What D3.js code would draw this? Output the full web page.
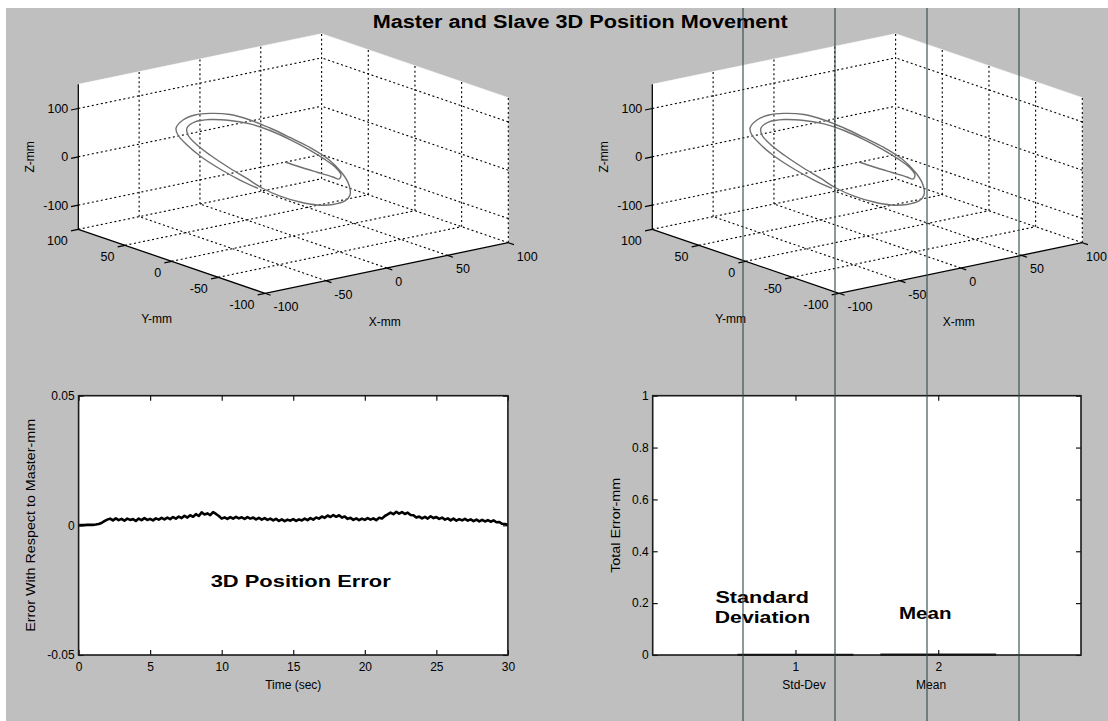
<!DOCTYPE html>
<html>
<head>
<meta charset="utf-8">
<script src="https://cdn.jsdelivr.net/npm/d3@7"></script>
<style>
  html, body { margin: 0; padding: 0; background: #fff; }
  svg { display: block; font-family: "Liberation Sans", Arial, Helvetica, sans-serif; }
</style>
</head>
<body>
<svg id="fig" width="1108" height="721"></svg>
<script>
// ---- data ----
const figTitle = "Master and Slave 3D Position Movement";

// 3D trajectory in mm (two turns)
const pathX = [-2.7, 2.2, 8.0, 12.9, 14.8, 15.5, 13.9, 10.0, 4.8, -1.1, -7.6, -14.0, -20.5, -27.0, -31.9, -34.5,
  -34.2, -31.6, -27.0, -21.2, -15.3, -10.2, -4.3, 2.2, 7.7, 12.9, 16.8, 18.4, 18.1, 15.8, 11.3, 5.4, -1.1,
  -7.6, -14.0, -20.5, -27.0, -31.9, -35.8, -38.0, -37.4, -34.8, -30.2, -23.8, -17.3, -11.4];
const pathY = [5.4, -4.3, -16.0, -25.7, -29.6, -30.9, -27.7, -19.9, -9.5, 2.1, 15.1, 28.1, 41.1, 54.0, 63.8, 68.9,
  68.3, 63.1, 54.0, 42.4, 30.7, 20.3, 8.6, -4.3, -15.4, -25.7, -33.5, -36.8, -36.1, -31.6, -22.5, -10.8, 2.1,
  15.1, 28.1, 41.1, 54.0, 63.8, 71.5, 76.1, 74.8, 69.6, 60.5, 47.5, 34.6, 22.9];
const pathZ = [1.0, -5.6, -12.2, -17.6, -20.3, -11.4, 1.9, 17.4, 33.7, 48.8, 62.3, 70.6, 72.4, 69.3, 60.4, 45.9,
  31.7, 15.1, -4.1, -24.2, -42.2, -58.8, -70.8, -78.0, -79.7, -74.5, -64.1, -50.5, -30.0, -7.0, 18.3, 37.5, 53.0,
  67.4, 78.8, 84.9, 82.1, 74.9, 61.4, 42.4, 29.0, 12.4, -8.7, -30.4, -48.0, -60.8];

const ticksXY = [-100, -50, 0, 50, 100];
const ticksZ = [-100, 0, 100];

// 3D position error, one sample every 0.2 s from 0 to 30 s, in micrometres
const errorUm = [
  0.0, 0.1, 0.1, 0.2, 0.2, 0.2, 0.3, 0.5, 0.9, 1.6,
  2.2, 2.6, 1.9, 2.7, 2.0, 2.5, 1.8, 2.6, 2.1, 2.4,
  1.7, 2.6, 2.0, 2.8, 2.1, 2.5, 1.9, 2.7, 2.2, 2.9,
  2.3, 3.0, 2.4, 3.2, 2.6, 3.4, 2.8, 3.7, 3.0, 3.9,
  3.3, 4.3, 3.6, 5.0, 4.2, 4.6, 3.9, 5.1, 4.4, 3.6,
  2.6, 3.1, 2.5, 3.2, 2.6, 3.3, 2.7, 3.1, 2.5, 3.2,
  2.6, 3.0, 2.3, 2.9, 2.2, 2.8, 2.1, 2.6, 1.9, 2.5,
  1.7, 2.3, 1.6, 2.2, 1.8, 2.4, 1.7, 2.3, 1.9, 2.6,
  2.0, 2.8, 2.2, 3.0, 2.6, 3.4, 2.9, 3.8, 3.2, 4.0,
  3.3, 3.9, 3.0, 3.4, 2.5, 2.9, 2.1, 2.7, 2.0, 2.6,
  2.1, 2.8, 2.2, 2.7, 2.0, 2.9, 2.6, 3.6, 4.2, 4.9,
  4.3, 5.2, 4.5, 5.1, 4.4, 4.9, 4.0, 3.9, 3.0, 3.4,
  2.7, 3.3, 2.6, 3.5, 2.8, 3.2, 2.5, 3.0, 2.2, 2.7,
  1.9, 2.6, 1.8, 2.4, 1.9, 2.5, 1.8, 2.3, 1.6, 2.2,
  1.5, 2.1, 1.5, 2.0, 1.4, 1.9, 1.2, 1.3, 0.6, 0.5,
  0.2
];
const sampleStep = 0.2;
const timeTicks = [0, 5, 10, 15, 20, 25, 30];
const errorTicks = [-0.05, 0, 0.05];

const barNames = ["Std-Dev", "Mean"];
const barValues = [0.0016, 0.0024];
const barLabelAt = [1.06, 1.95];
const totalTicks = [0, 0.2, 0.4, 0.6, 0.8, 1];

// ---- drawing ----
const W = 1108, H = 721;
const svg = d3.select("#fig");

svg.append("rect")
  .attr("x", 6).attr("y", 8).attr("width", W - 6).attr("height", H - 8)
  .attr("fill", "#bfbfbf");

svg.append("text")
  .attr("x", 372.7).attr("y", 28.3)
  .attr("font-size", 17.5).attr("font-weight", "bold")
  .attr("textLength", 415).attr("lengthAdjust", "spacingAndGlyphs")
  .text(figTitle);

// MATLAB default view (az -37.5, el 30), stretched to fill the axes
function makeProjection(ox, oy) {
  const nx = d3.scaleLinear().domain([-100, 100]).range([0, 1]);
  const ny = d3.scaleLinear().domain([-100, 100]).range([0, 1]);
  const nz = d3.scaleLinear().domain([-150, 150]).range([0, 1]);
  return (x, y, z) => [
    ox + nx(x) * 243.3 - ny(y) * 186.7,
    oy - nx(x) * 50.6 - ny(y) * 64 - nz(z) * 145
  ];
}

function draw3D(ox) {
  const P = makeProjection(ox, 293.3);
  const g = svg.append("g");
  const line3 = pts => d3.line()(pts.map(p => P(p[0], p[1], p[2])));

  // white panes: back wall, side wall, floor
  const panes = [
    [[-100, 100, -150], [100, 100, -150], [100, 100, 150], [-100, 100, 150]],
    [[100, 100, -150], [100, -100, -150], [100, -100, 150], [100, 100, 150]],
    [[-100, -100, -150], [100, -100, -150], [100, 100, -150], [-100, 100, -150]]
  ];
  g.selectAll("path.pane").data(panes).join("path")
    .attr("class", "pane")
    .attr("d", d => line3(d) + "Z")
    .attr("fill", "#fff").attr("stroke", "#fff").attr("stroke-width", 0.6);

  // dotted grid
  const grid = [];
  ticksXY.filter(v => v > -100).forEach(v => {
    grid.push([[v, 100, -150], [v, 100, 150]]);
    grid.push([[v, -100, -150], [v, 100, -150]]);
    grid.push([[-100, v, -150], [100, v, -150]]);
  });
  ticksXY.filter(v => v < 100).forEach(v => grid.push([[100, v, -150], [100, v, 150]]));
  ticksZ.forEach(v => {
    grid.push([[-100, 100, v], [100, 100, v]]);
    grid.push([[100, -100, v], [100, 100, v]]);
  });
  g.selectAll("path.grid").data(grid).join("path")
    .attr("class", "grid")
    .attr("d", line3)
    .attr("fill", "none").attr("stroke", "#000")
    .attr("stroke-width", 1.1).attr("stroke-dasharray", "2,2.6");

  // trajectory
  const pts = pathX.map((x, i) => P(x, pathY[i], pathZ[i]));
  g.append("path")
    .attr("d", d3.line().curve(d3.curveCatmullRom)(pts))
    .attr("fill", "none").attr("stroke", "#707070").attr("stroke-width", 1.4);

  // axis lines
  const axes = [
    [[-100, 100, -150], [-100, 100, 150]],
    [[-100, -100, -150], [-100, 100, -150]],
    [[-100, -100, -150], [100, -100, -150]]
  ];
  g.selectAll("path.axis").data(axes).join("path")
    .attr("class", "axis")
    .attr("d", line3)
    .attr("fill", "none").attr("stroke", "#000").attr("stroke-width", 1.3);

  // ticks
  const ticks = [];
  ticksXY.forEach(v => {
    ticks.push([[v, -100, -150], [v, -106, -150]]);
    ticks.push([[-100, v, -150], [-106, v, -150]]);
  });
  ticksZ.forEach(v => ticks.push([[-100, 100, v], [-106, 100, v]]));
  g.selectAll("path.tick").data(ticks).join("path")
    .attr("class", "tick")
    .attr("d", line3)
    .attr("stroke", "#000").attr("stroke-width", 1.2);

  // tick labels (kept inside the window at the far right)
  g.selectAll("text.xt").data(ticksXY).join("text")
    .attr("class", "xt")
    .attr("x", d => Math.min(P(d, -100, -150)[0] + 8.5, W - 22))
    .attr("y", d => P(d, -100, -150)[1] + 13.5)
    .attr("dy", "0.35em").attr("font-size", 12.5)
    .text(d => d);
  g.selectAll("text.yt").data(ticksXY).join("text")
    .attr("class", "yt")
    .attr("x", d => P(-100, d, -150)[0] - 10.5)
    .attr("y", d => P(-100, d, -150)[1] + 11.3)
    .attr("dy", "0.35em").attr("text-anchor", "end").attr("font-size", 12.5)
    .text(d => d);
  g.selectAll("text.zt").data(ticksZ).join("text")
    .attr("class", "zt")
    .attr("x", d => P(-100, 100, d)[0] - 10)
    .attr("y", d => P(-100, 100, d)[1])
    .attr("dy", "0.35em").attr("text-anchor", "end").attr("font-size", 12.5)
    .text(d => d);

  // axis titles
  const px = P(0, -100, -150), py = P(-100, 0, -150), pz = P(-100, 100, 0);
  g.append("text").attr("x", px[0] - 2).attr("y", px[1] + 53.7)
    .attr("dy", "0.35em").attr("text-anchor", "middle").attr("font-size", 12).text("X-mm");
  g.append("text").attr("x", py[0] - 15).attr("y", py[1] + 57)
    .attr("dy", "0.35em").attr("text-anchor", "middle").attr("font-size", 12).text("Y-mm");
  g.append("text")
    .attr("transform", `translate(${pz[0] - 48.3},${pz[1]}) rotate(-90)`)
    .attr("dy", "0.35em").attr("text-anchor", "middle").attr("font-size", 12).text("Z-mm");
}

draw3D(265);
draw3D(839);

// styles d3 axes like MATLAB: ticks inside, 12px labels
function styleAxis(sel) {
  sel.attr("font-size", 12).attr("font-family", null);
  sel.select(".domain").remove();
  sel.selectAll(".tick line").attr("stroke", "#000").attr("stroke-width", 1.1);
  sel.selectAll(".tick text").attr("fill", "#000");
}

// ---- bottom left: position error vs time ----
{
  const x = d3.scaleLinear().domain([0, 30]).range([78.6, 507.9]);
  const y = d3.scaleLinear().domain([-0.05, 0.05]).range([655, 395.7]);
  const g = svg.append("g");

  g.append("rect").attr("x", x(0)).attr("y", y(0.05))
    .attr("width", x(30) - x(0)).attr("height", y(-0.05) - y(0.05)).attr("fill", "#fff");

  g.append("path")
    .datum(errorUm)
    .attr("d", d3.line().x((d, i) => x(i * sampleStep)).y(d => y(d / 1000)))
    .attr("fill", "none").attr("stroke", "#000").attr("stroke-width", 2.6)
    .attr("stroke-linejoin", "round");

  g.append("g").attr("transform", `translate(0,${y(-0.05)})`)
    .call(d3.axisBottom(x).tickValues(timeTicks).tickSizeInner(-5).tickSizeOuter(0).tickPadding(7))
    .call(styleAxis);
  g.append("g").attr("transform", `translate(0,${y(0.05)})`)
    .call(d3.axisTop(x).tickValues(timeTicks).tickSizeInner(-5).tickSizeOuter(0).tickFormat(""))
    .call(styleAxis);
  g.append("g").attr("transform", `translate(${x(0)},0)`)
    .call(d3.axisLeft(y).tickValues(errorTicks).tickSizeInner(-5).tickSizeOuter(0).tickPadding(4)
      .tickFormat(d => String(d)))
    .call(styleAxis);
  g.append("g").attr("transform", `translate(${x(30)},0)`)
    .call(d3.axisRight(y).tickValues(errorTicks).tickSizeInner(-5).tickSizeOuter(0).tickFormat(""))
    .call(styleAxis);

  g.append("rect").attr("x", x(0)).attr("y", y(0.05))
    .attr("width", x(30) - x(0)).attr("height", y(-0.05) - y(0.05))
    .attr("fill", "none").attr("stroke", "#1a1a1a").attr("stroke-width", 1.6);

  g.append("text").attr("x", (x(0) + x(30)) / 2).attr("y", 685)
    .attr("dy", "0.35em").attr("text-anchor", "middle").attr("font-size", 12).text("Time (sec)");
  g.append("text")
    .attr("transform", `translate(30.4,${y(0)}) rotate(-90)`)
    .attr("dy", "0.35em").attr("text-anchor", "middle").attr("font-size", 12.5)
    .attr("textLength", 213).attr("lengthAdjust", "spacingAndGlyphs")
    .text("Error With Respect to Master-mm");
  g.append("text").attr("x", 210.7).attr("y", 586.7)
    .attr("font-size", 16.3).attr("font-weight", "bold")
    .attr("textLength", 180).attr("lengthAdjust", "spacingAndGlyphs")
    .text("3D Position Error");
}

// ---- bottom right: std-dev and mean of the error ----
{
  const x = d3.scaleLinear().domain([0, 3]).range([652.7, 1081]);
  const y = d3.scaleLinear().domain([0, 1]).range([655, 395.7]);
  const g = svg.append("g");

  g.append("rect").attr("x", x(0)).attr("y", y(1))
    .attr("width", x(3) - x(0)).attr("height", y(0) - y(1)).attr("fill", "#fff");

  g.selectAll("rect.bar").data(barValues).join("rect")
    .attr("class", "bar")
    .attr("x", (d, i) => x(i + 1 - 0.4))
    .attr("width", x(0.8) - x(0))
    .attr("y", d => y(d))
    .attr("height", d => y(0) - y(d))
    .attr("fill", "#000").attr("stroke", "#000").attr("stroke-width", 1.6);

  g.append("g").attr("transform", `translate(0,${y(0)})`)
    .call(d3.axisBottom(x).tickValues([1, 2]).tickSizeInner(-5).tickSizeOuter(0).tickPadding(7)
      .tickFormat(d3.format("d")))
    .call(styleAxis);
  g.append("g").attr("transform", `translate(0,${y(1)})`)
    .call(d3.axisTop(x).tickValues([1, 2]).tickSizeInner(-5).tickSizeOuter(0).tickFormat(""))
    .call(styleAxis);
  g.append("g").attr("transform", `translate(${x(0)},0)`)
    .call(d3.axisLeft(y).tickValues(totalTicks).tickSizeInner(-5).tickSizeOuter(0).tickPadding(4)
      .tickFormat(d => (d === 0 || d === 1) ? String(d) : d.toFixed(1)))
    .call(styleAxis);
  g.append("g").attr("transform", `translate(${x(3)},0)`)
    .call(d3.axisRight(y).tickValues(totalTicks).tickSizeInner(-5).tickSizeOuter(0).tickFormat(""))
    .call(styleAxis);

  g.append("rect").attr("x", x(0)).attr("y", y(1))
    .attr("width", x(3) - x(0)).attr("height", y(0) - y(1))
    .attr("fill", "none").attr("stroke", "#1a1a1a").attr("stroke-width", 1.6);

  g.selectAll("text.cat").data(barNames).join("text")
    .attr("class", "cat")
    .attr("x", (d, i) => x(barLabelAt[i])).attr("y", 685)
    .attr("dy", "0.35em").attr("text-anchor", "middle").attr("font-size", 12)
    .text(d => d);
  g.append("text")
    .attr("transform", `translate(616,${y(0.5)}) rotate(-90)`)
    .attr("dy", "0.35em").attr("text-anchor", "middle").attr("font-size", 12)
    .attr("textLength", 95).attr("lengthAdjust", "spacingAndGlyphs")
    .text("Total Error-mm");

  const bold = [
    { t: "Standard", x: 715.5, y: 602.7, len: 93.4 },
    { t: "Deviation", x: 714.8, y: 622.7, len: 95.5 },
    { t: "Mean", x: 899, y: 619, len: 52.5 }
  ];
  g.selectAll("text.note").data(bold).join("text")
    .attr("class", "note")
    .attr("x", d => d.x).attr("y", d => d.y)
    .attr("font-size", 16.5).attr("font-weight", "bold")
    .attr("textLength", d => d.len).attr("lengthAdjust", "spacingAndGlyphs")
    .text(d => d.t);
}

// thin vertical rules crossing the right half of the figure
const ruleX = [743, 835, 927, 1019];
svg.selectAll("line.rule").data(ruleX).join("line")
  .attr("class", "rule")
  .attr("x1", d => d).attr("x2", d => d)
  .attr("y1", 8).attr("y2", H)
  .attr("stroke", "#2d4747").attr("stroke-width", 1.1);
</script>
</body>
</html>
